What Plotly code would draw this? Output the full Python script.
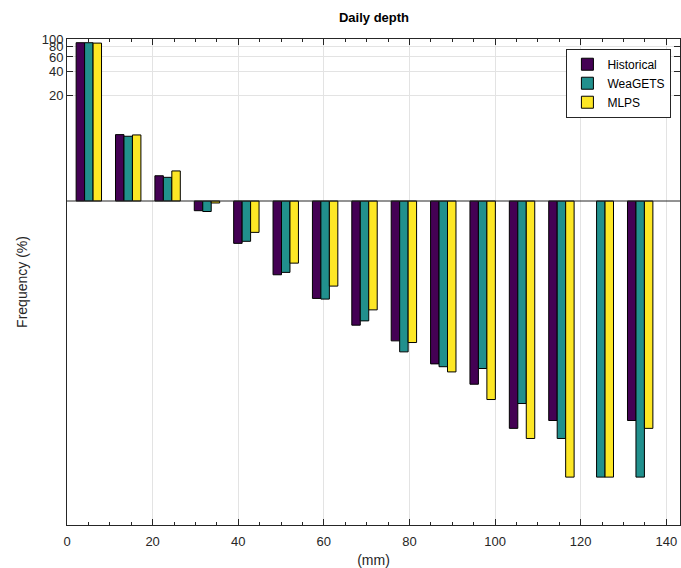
import plotly.graph_objects as go

# Daily precipitation depth bins (mm, bin centres) and relative frequency (%)
bin_centers = [5.1, 14.3, 23.5, 32.7, 41.9, 51.1, 60.3, 69.5, 78.7, 87.9,
               97.1, 106.3, 115.5, 124.7, 133.9]
historical = [90.0, 6.60, 2.05, 0.759, 0.300, 0.1228, 0.0627, 0.0293, 0.01876,
              0.00975, 0.00547, 0.00156, 0.00195, None, 0.00195]
weagets = [90.0, 6.30, 1.96, 0.742, 0.318, 0.1314, 0.0615, 0.0331, 0.01372,
           0.0090, 0.00855, 0.00316, 0.00117, 0.00039, 0.00039]
mlps = [89.0, 6.54, 2.35, 0.945, 0.410, 0.171, 0.0890, 0.0453, 0.0179,
        0.00776, 0.00354, 0.00117, 0.00039, 0.00039, 0.00156]

series_names = ["Historical", "WeaGETS", "MLPS"]
series_colors = ["#440154", "#21908d", "#fde725"]
y_ticks = [20, 40, 60, 80, 100]

BASELINE = 1.0  # bars grow up/down from 1 % on the log axis

fig = go.Figure()
for name, vals, col in zip(series_names, [historical, weagets, mlps], series_colors):
    fig.add_trace(go.Bar(
        x=bin_centers,
        y=[None if v is None else v - BASELINE for v in vals],
        base=BASELINE,
        name=name,
        marker=dict(color=col, line=dict(color="#000000", width=1)),
    ))

FAMILY = "Liberation Sans, Arial, sans-serif"
axis_font = dict(family=FAMILY, size=13, color="#262626")
label_font = dict(family=FAMILY, size=14, color="#262626")

fig.update_layout(
    width=681, height=568,
    margin=dict(l=67, r=1, t=39, b=43),
    paper_bgcolor="white", plot_bgcolor="white",
    barmode="group", bargap=0.355, bargroupgap=0.0,
    font=axis_font,
    title=dict(text="<b>Daily depth</b>", x=374 / 681, xanchor="center",
               y=1 - 17 / 568, yanchor="middle",
               font=dict(family=FAMILY, size=13, color="#000000")),
    showlegend=True,
    legend=dict(x=0.986, xanchor="right", y=0.98, yanchor="top",
                bgcolor="white", bordercolor="#262626", borderwidth=1,
                font=dict(family=FAMILY, size=12, color="#000000"),
                tracegroupgap=0, itemwidth=30),
    xaxis=dict(
        range=[0, 143.2], tickmode="array", tickvals=[0, 20, 40, 60, 80, 100, 120, 140],
        ticks="inside", ticklen=6, tickcolor="#262626",
        minor=dict(dtick=5, ticks="inside", ticklen=3, tickcolor="#262626", showgrid=False),
        showline=True, linecolor="#262626", linewidth=1, mirror="allticks",
        showgrid=True, gridcolor="#e3e3e3", gridwidth=1,
        zeroline=False, ticklabelstandoff=4,
        title=dict(text="(mm)", standoff=7, font=label_font),
    ),
    yaxis=dict(
        type="log", range=[-4, 2],
        tickmode="array", tickvals=y_ticks, ticktext=[str(t) for t in y_ticks],
        ticks="inside", ticklen=6, tickcolor="#262626",
        showline=True, linecolor="#262626", linewidth=1, mirror="allticks",
        showgrid=True, gridcolor="#e3e3e3", gridwidth=1,
        zeroline=False,
        title=dict(text="Frequency (%)", standoff=10, font=label_font),
    ),
    shapes=[dict(type="line", xref="paper", yref="y", x0=0, x1=1, y0=BASELINE, y1=BASELINE,
                 line=dict(color="#262626", width=1), layer="above")],
)

fig.write_html("out.html")
